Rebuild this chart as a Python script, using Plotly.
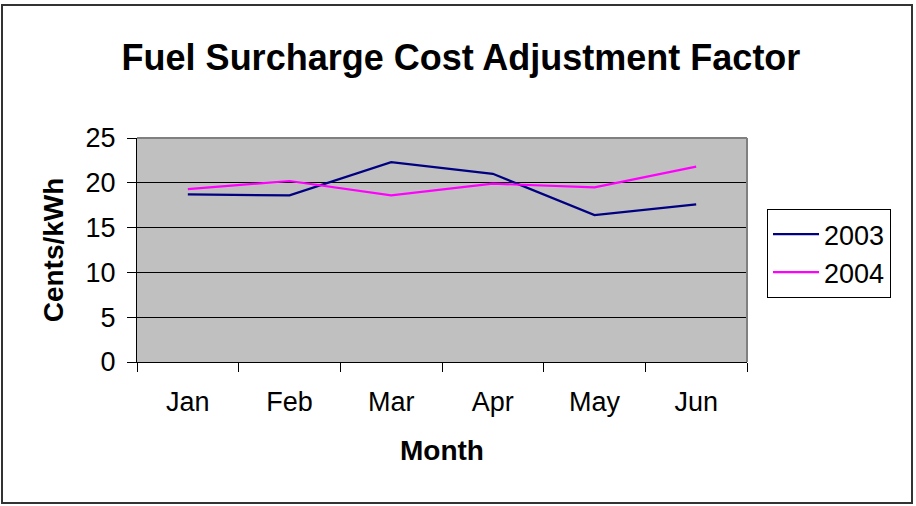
import plotly.graph_objects as go

months = ["Jan", "Feb", "Mar", "Apr", "May", "Jun"]
series_names = ["2003", "2004"]
values_2003 = [18.7, 18.6, 22.3, 21.0, 16.4, 17.6]
values_2004 = [19.3, 20.2, 18.6, 19.9, 19.5, 21.8]
colors = ["#000080", "#FF00FF"]

W, H = 916, 506
L, R, T, B = 137, 169, 138, 144
pw, ph = W - L - R, H - T - B

def px_x(x):
    return (x - L) / pw

def px_y(y):
    return (H - B - y) / ph

FONT = "Arial, Liberation Sans, sans-serif"

fig = go.Figure()
for name, vals, col in zip(series_names, [values_2003, values_2004], colors):
    fig.add_trace(go.Scatter(x=months, y=vals, name=name, mode="lines",
                             line=dict(color=col, width=2.2)))

fig.update_layout(
    width=W, height=H,
    margin=dict(l=L, r=R, t=T, b=B),
    paper_bgcolor="white",
    plot_bgcolor="#C0C0C0",
    font=dict(family=FONT, size=27, color="black"),
    title=dict(text="<b>Fuel Surcharge Cost Adjustment Factor</b>",
               x=461 / W, xanchor="center", y=1 - 57 / H, yanchor="middle",
               yref="container", font=dict(size=36, family=FONT, color="black")),
    showlegend=True,
    legend=dict(x=px_x(767), xanchor="left", y=px_y(209), yanchor="top",
                bgcolor="white", bordercolor="black", borderwidth=1,
                itemwidth=46,
                font=dict(size=27, family=FONT), tracegroupgap=0),
    xaxis=dict(type="category", range=[-0.5, 5.5], tickson="boundaries",
               ticks="outside", ticklen=9, tickcolor="black", tickwidth=1,
               ticklabelstandoff=16,
               showline=True, linecolor="black", linewidth=1,
               showgrid=False, zeroline=False,
               tickfont=dict(size=27, family=FONT),
               title=dict(text="<b>Month</b>", standoff=23,
                          font=dict(size=28, family=FONT))),
    yaxis=dict(range=[0, 25], dtick=5, tick0=0,
               ticks="outside", ticklen=9, tickcolor="black", tickwidth=1,
               ticklabelstandoff=6,
               showline=True, linecolor="black", linewidth=1,
               showgrid=True, gridcolor="black", gridwidth=1, zeroline=False,
               tickfont=dict(size=27, family=FONT),
               title=dict(text="<b>Cents/kWh</b>", standoff=13,
                          font=dict(size=28, family=FONT))),
    shapes=[
        dict(type="line", xref="paper", yref="paper", x0=0, x1=1, y0=1, y1=1,
             line=dict(color="#808080", width=2)),
        dict(type="line", xref="paper", yref="paper", x0=1, x1=1, y0=0, y1=1,
             line=dict(color="#808080", width=2)),
        dict(type="rect", xref="paper", yref="paper",
             x0=px_x(2), x1=px_x(912), y0=px_y(503), y1=px_y(5),
             line=dict(color="#333333", width=2), fillcolor="rgba(0,0,0,0)"),
    ],
)

fig.write_html("out.html", config={"displayModeBar": False},
               post_script="document.body.style.margin='0';document.body.style.overflow='hidden';")
